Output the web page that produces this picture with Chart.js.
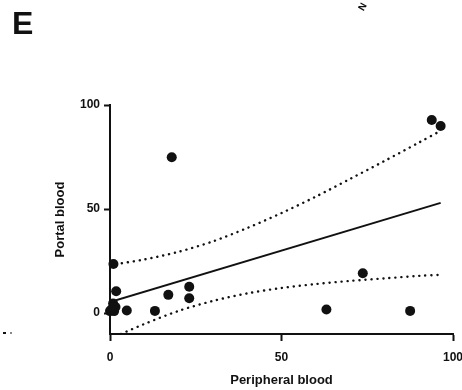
<!DOCTYPE html>
<html>
<head>
<meta charset="utf-8">
<script src="https://cdn.jsdelivr.net/npm/chart.js@4"></script>
<style>
  html,body{margin:0;padding:0;background:#fff;}
  #wrap{width:462px;height:390px;position:relative;}
</style>
</head>
<body>
<div id="wrap"><canvas id="c" width="462" height="390"></canvas></div>
<script>
// measured points (peripheral vs portal blood)
const periph = [18.0, 1.0, 1.8, 0.9, 1.6, 0.0, 1.2, 0.4, 4.9, 13.1, 17.0, 23.1, 23.1, 93.8, 96.4, 73.7, 63.1, 87.5];
const portal = [74.9, 23.6, 10.5, 4.6, 3.0, 1.0, 1.0, 1.8, 1.3, 1.1, 8.8, 12.7, 7.2, 92.8, 89.9, 19.2, 1.8, 1.1];

// regression line and 95% band
const fitX   = [0, 96.4];
const fitY   = [5.4, 53.0];
const bandX  = [0, 10, 20, 30, 40, 50, 60, 70, 80, 90, 96.4];
const upperY = [23.1, 25.8, 29.5, 34.5, 40.9, 48.1, 56.0, 64.5, 73.1, 81.9, 87.6];
const lowerY = [-12.3, -5.2, 1.1, 5.9, 9.5, 12.1, 14.0, 15.5, 16.7, 17.9, 18.4];

const xTicks = [0, 50, 100];
const yTicks = [0, 50, 100];

const pts = (xs, ys) => xs.map((x,i)=>({x, y:ys[i]}));
const font = 'Arial, "Liberation Sans", sans-serif';

// panel letter and cut-off bits of neighbouring panels
const extras = {
  id:'extras',
  afterDraw(chart){
    const ctx = chart.ctx;
    ctx.save();
    ctx.fillStyle = '#111';
    ctx.font = 'bold 32px ' + font;
    ctx.textBaseline = 'alphabetic';
    ctx.fillText('E', 12, 34);
    ctx.translate(362, 6);
    ctx.rotate(-Math.PI/3);
    ctx.font = 'bold 10px ' + font;
    ctx.fillText('N', -4, 4);
    ctx.restore();
    ctx.save();
    ctx.fillStyle = '#111';
    ctx.fillRect(3, 332, 3, 2);
    ctx.fillStyle = '#888';
    ctx.fillRect(10, 332, 2, 2);
    ctx.restore();
  }
};

const dotted = {showLine:true, pointRadius:0, borderColor:'#111', borderWidth:2.4, borderDash:[0.1,5.9], borderCapStyle:'round', tension:0.3, fill:false};

new Chart(document.getElementById('c'), {
  type:'scatter',
  data:{ datasets:[
    {label:'upper', data:pts(bandX, upperY), ...dotted},
    {label:'lower', data:pts(bandX, lowerY), ...dotted},
    {label:'fit', data:pts(fitX, fitY), showLine:true, pointRadius:0, borderColor:'#111', borderWidth:2},
    {label:'samples', data:pts(periph, portal), pointRadius:5, pointBackgroundColor:'#111', pointBorderWidth:0, clip:false}
  ]},
  options:{
    responsive:false,
    animation:false,
    layout:{ padding:{left:53, right:9, top:105, bottom:2} },
    plugins:{ legend:{display:false}, tooltip:{enabled:false} },
    scales:{
      x:{
        type:'linear', min:0, max:100,
        afterBuildTicks: s => { s.ticks = xTicks.map(v=>({value:v})); },
        afterFit: s => { s.height = 54; s.paddingLeft = 0; s.paddingRight = 0; },
        grid:{ display:true, drawOnChartArea:false, drawTicks:true, tickLength:7, tickColor:'#111', tickWidth:2 },
        border:{ display:true, color:'#111', width:2 },
        ticks:{ color:'#111', padding:9, font:{family:font, size:12, weight:'bold'}, maxRotation:0 },
        title:{ display:true, text:'Peripheral blood', color:'#111', font:{family:font, size:13, weight:'bold'}, padding:{top:9, bottom:0} }
      },
      y:{
        type:'linear', min:-10, max:100,
        afterBuildTicks: s => { s.ticks = yTicks.map(v=>({value:v})); },
        afterFit: s => { s.width = 57; s.paddingTop = 0; s.paddingBottom = 0; },
        grid:{ display:true, drawOnChartArea:false, drawTicks:true, tickLength:6, tickColor:'#111', tickWidth:2 },
        border:{ display:true, color:'#111', width:2 },
        ticks:{ color:'#111', padding:4, font:{family:font, size:12, weight:'bold'} },
        title:{ display:true, text:'Portal blood', color:'#111', font:{family:font, size:13, weight:'bold'}, padding:{top:0, bottom:10} }
      }
    }
  },
  plugins:[extras]
});
</script>
</body>
</html>
